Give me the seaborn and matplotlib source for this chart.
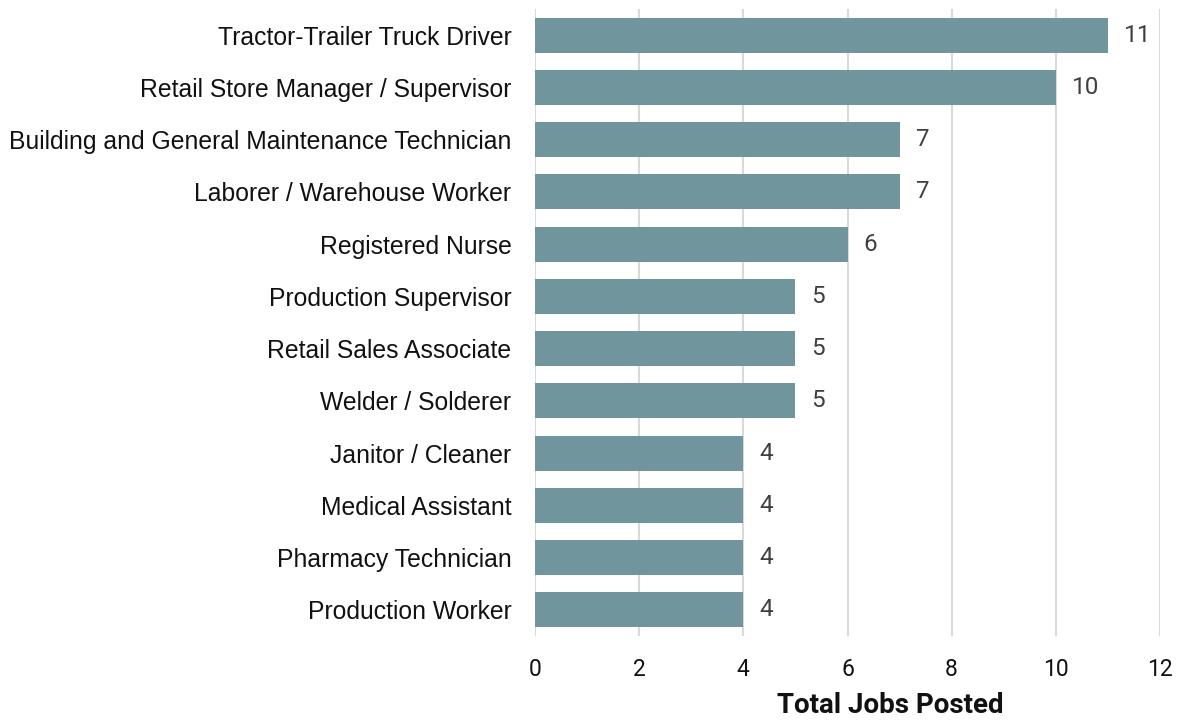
import pandas as pd
import matplotlib.pyplot as plt
import seaborn as sns

# Data
occupations = [
    'Tractor-Trailer Truck Driver',
    'Retail Store Manager / Supervisor',
    'Building and General Maintenance Technician',
    'Laborer / Warehouse Worker',
    'Registered Nurse',
    'Production Supervisor',
    'Retail Sales Associate',
    'Welder / Solderer',
    'Janitor / Cleaner',
    'Medical Assistant',
    'Pharmacy Technician',
    'Production Worker',
]
jobs_posted = [11, 10, 7, 7, 6, 5, 5, 5, 4, 4, 4, 4]
x_ticks = [0, 2, 4, 6, 8, 10, 12]

df = pd.DataFrame({'occupation': occupations, 'jobs': jobs_posted})

sns.set_style('white')
plt.rcParams['font.family'] = ['Liberation Sans', 'DejaVu Sans']

fig = plt.figure(figsize=(11.79, 7.21), dpi=100)
ax = fig.add_axes([535 / 1179, 1 - 636 / 721, 625 / 1179, 627 / 721])

sns.barplot(data=df, x='jobs', y='occupation', color='#71959c', saturation=1,
            width=0.67, linewidth=0, ax=ax)

# value labels
for i, v in enumerate(jobs_posted):
    ax.text(v + 0.3, i, str(v), va='center', ha='left', fontsize=17.5,
            color='#404040', family='Roboto')

ax.set_xlim(0, 12)
ax.set_xticks(x_ticks)
ax.set_xticklabels([str(t) for t in x_ticks], fontsize=16.5, family='Roboto')
ax.tick_params(axis='x', length=0, pad=16, colors='#111111')
ax.tick_params(axis='y', length=0, pad=17, labelsize=17.8, colors='#111111')
ax.grid(axis='x', color='#d9d9d9', linewidth=1.5)
ax.set_axisbelow(True)
for s in ax.spines.values():
    s.set_visible(False)

ax.set_ylabel('')
ax.set_xlabel('Total Jobs Posted', fontsize=20, fontweight='bold', family='Roboto',
              color='#111111')
ax.xaxis.set_label_coords(0.568, -0.09)

fig.savefig('out.png', dpi=100)
